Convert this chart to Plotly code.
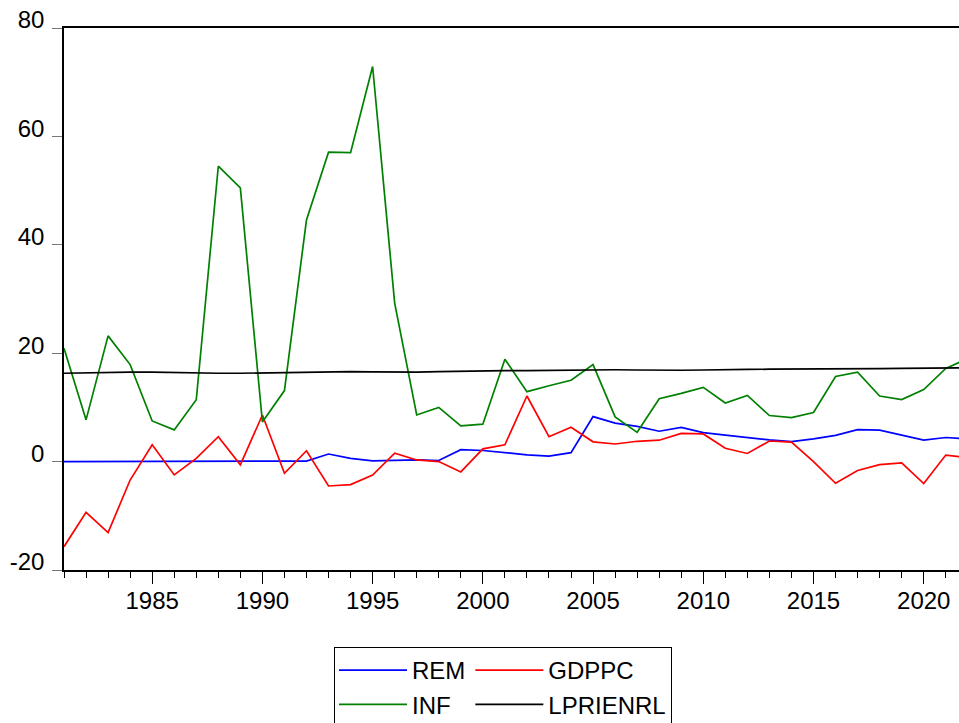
import plotly.graph_objects as go

years = list(range(1981, 2023))

rem = [0.0, 0.0, 0.0, 0.0, 0.0, 0.0, 0.0, 0.0, 0.0, 0.0, 0.1, 0.1,
       1.4, 0.6, 0.15, 0.2, 0.3, 0.2, 2.2, 2.05, 1.6, 1.25, 1.0, 1.65,
       8.3, 7.1, 6.5, 5.6, 6.3, 5.35, 4.9, 4.45, 4.0, 3.7, 4.2, 4.85,
       5.9, 5.8, 4.9, 3.95, 4.45, 4.2]

gdppc = [-15.7, -9.35, -13.1, -3.4, 3.1, -2.45, 0.6, 4.6, -0.6, 8.6, -2.15, 2.0,
         -4.5, -4.25, -2.5, 1.55, 0.3, 0.0, -1.9, 2.35, 3.1, 12.1, 4.6, 6.35,
         3.65, 3.25, 3.75, 3.95, 5.2, 5.1, 2.45, 1.5, 3.8, 3.6, 0.0, -4.0,
         -1.65, -0.55, -0.25, -4.05, 1.2, 0.7]

inf = [20.9, 7.7, 23.2, 17.9, 7.5, 5.85, 11.4, 54.5, 50.5, 7.3, 13.1, 44.6,
       57.1, 57.0, 72.9, 29.25, 8.6, 10.0, 6.6, 6.9, 18.9, 12.9, 14.0, 15.0,
       17.9, 8.25, 5.4, 11.6, 12.6, 13.7, 10.8, 12.2, 8.5, 8.1, 9.05, 15.7,
       16.5, 12.1, 11.45, 13.3, 17.2, 19.0]

lprienrl = [16.3, 16.4, 16.5, 16.5, 16.5, 16.4, 16.35, 16.3, 16.3, 16.35, 16.4, 16.5,
            16.6, 16.6, 16.55, 16.5, 16.5, 16.6, 16.7, 16.75, 16.8, 16.8, 16.85, 16.85,
            16.9, 16.95, 16.9, 16.85, 16.85, 16.9, 17.0, 17.0, 17.05, 17.05, 17.05, 17.1,
            17.1, 17.15, 17.2, 17.25, 17.3, 17.3]

x_tickvals = [1985, 1990, 1995, 2000, 2005, 2010, 2015, 2020]
y_tickvals = [-20, 0, 20, 40, 60, 80]
y_ticktext = ["-20", "0", "20", "40", "60", "80"]

FONT = "Liberation Sans, Arial, sans-serif"

fig = go.Figure()
series = [
    ("REM", rem, "#0000FF", "a"),
    ("GDPPC", gdppc, "#FF0000", "b"),
    ("INF", inf, "#008000", "a"),
    ("LPRIENRL", lprienrl, "#000000", "b"),
]
for name, vals, color, grp in series:
    fig.add_trace(go.Scatter(
        x=years, y=vals, mode="lines", name=name,
        line=dict(color=color, width=1.7),
        legendgroup=grp,
    ))

fig.update_layout(
    width=959, height=723,
    margin=dict(l=64, r=0, t=28, b=153, autoexpand=False),
    paper_bgcolor="white", plot_bgcolor="white",
    font=dict(family=FONT, size=24, color="#000000"),
    showlegend=True,
    legend=dict(
        orientation="h",
        traceorder="grouped",
        x=(334 - 64) / 895, xanchor="left",
        y=-(647 - 570) / 542, yanchor="top",
        bordercolor="#000000", borderwidth=1,
        font=dict(family=FONT, size=24, color="#000000"),
        itemwidth=68,
        tracegroupgap=0,
        bgcolor="white",
    ),
    xaxis=dict(
        range=[1981, 2021.6],
        tickvals=x_tickvals,
        ticks="outside", ticklen=12, tickwidth=1, tickcolor="#000000",
        minor=dict(dtick=1, tick0=1981, ticks="outside", ticklen=6,
                   tickcolor="#000000", tickwidth=1, showgrid=False),
        showline=True, linecolor="#000000", linewidth=1.5, mirror=True,
        showgrid=False, zeroline=False, automargin=False,
        tickfont=dict(family=FONT, size=24),
        ticklabelstandoff=-4,
    ),
    yaxis=dict(
        range=[-20, 80],
        tickvals=y_tickvals, ticktext=y_ticktext,
        ticks="outside", ticklen=10, tickwidth=1, tickcolor="#777777",
        showline=True, linecolor="#000000", linewidth=1.5,
        showgrid=False, zeroline=False, automargin=False,
        tickfont=dict(family=FONT, size=24),
        ticklabelshift=-8,
        ticklabelstandoff=3,
    ),
)

fig.write_html(
    "out.html",
    config={"displayModeBar": False},
    post_script="document.body.style.margin='0';document.body.style.overflow='hidden';",
)
